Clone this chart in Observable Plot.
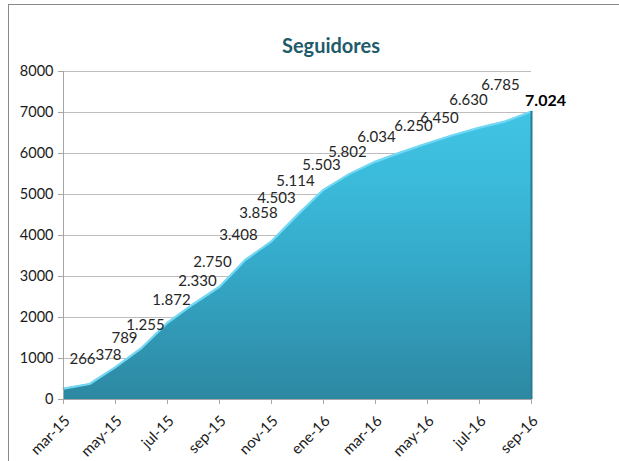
<!DOCTYPE html>
<html><head><meta charset="utf-8">
<script src="https://cdn.jsdelivr.net/npm/d3@7"></script>
<script src="https://cdn.jsdelivr.net/npm/@observablehq/plot@0.6"></script>
<style>
html,body{margin:0;padding:0;background:#fff;overflow:hidden;}
#wrap{position:relative;width:619px;height:461px;overflow:hidden;font-family:Lato,sans-serif;}
#frame{position:absolute;left:8px;top:4px;width:700px;height:600px;border:1.5px solid #8a8a8a;box-sizing:border-box;}
#title{position:absolute;left:0;top:35px;width:662px;text-align:center;font:bold 20px/20px Lato,sans-serif;color:#1f5b6b;}
#chart{position:absolute;left:0;top:0;}
</style>
</head><body>
<div id="wrap"><div id="frame"></div><div id="chart"></div><div id="title">Seguidores</div></div>
<script>
const months = ["mar-15","abr-15","may-15","jun-15","jul-15","ago-15","sep-15","oct-15","nov-15","dic-15","ene-16","feb-16","mar-16","abr-16","may-16","jun-16","jul-16","ago-16","sep-16"];
const followers = [266,378,789,1255,1872,2330,2750,3408,3858,4503,5114,5503,5802,6034,6250,6450,6630,6785,7024];
const yTicks = [0,1000,2000,3000,4000,5000,6000,7000,8000];
const xTicks = ["mar-15","may-15","jul-15","sep-15","nov-15","ene-16","mar-16","may-16","jul-16","sep-16"];

const data = months.map((m, i) => ({month: m, value: followers[i], i}));
const fmt = d3.formatLocale({decimal: ",", thousands: ".", grouping: [3], currency: ["", ""]}).format(",d");

// label offset groups (by index) to mimic the reference label placement
const labelGroups = [
  {idx: [0, 1], dx: 19, dy: -29},
  {idx: [2], dx: 9, dy: -29},
  {idx: [3, 4, 5], dx: 4, dy: -23},
  {idx: [6, 7], dx: -7, dy: -25},
  {idx: [8], dx: -13, dy: -28},
  {idx: [9], dx: -21, dy: -17},
  {idx: [10, 11, 12], dx: -28, dy: -9},
  {idx: [13], dx: -25, dy: -15},
  {idx: [14, 15], dx: -14, dy: -17},
  {idx: [16], dx: -11, dy: -27},
  {idx: [17], dx: -5, dy: -36}
];
const last = data.length - 1;

const labelMarks = labelGroups.map(g => Plot.text(data.filter(d => g.idx.includes(d.i)), {
  x: "month", y: "value", text: d => fmt(d.value), dx: g.dx, dy: g.dy,
  fontSize: 15, fill: "#262626"
}));

const plot = Plot.plot({
  width: 619, height: 461,
  marginLeft: 63, marginRight: 88, marginTop: 71, marginBottom: 62,
  style: {background: "transparent", fontFamily: "Lato, sans-serif", fontSize: "14px", color: "#000", overflow: "visible"},
  x: {type: "point", domain: months, padding: 0, axis: null, label: null},
  y: {domain: [0, 8000], axis: null, label: null},
  marks: [
    Plot.gridY(yTicks, {stroke: "#bdbdbd", strokeOpacity: 1, strokeWidth: 1}),
    Plot.areaY(data, {x: "month", y: "value", fill: "url(#segGrad)"}),
    Plot.lineY(data, {x: "month", y: "value", stroke: "#72d8f3", strokeWidth: 2.2}),
    Plot.ruleX([data[last]], {x: "month", y1: 0, y2: "value", stroke: "#2a7c93", strokeWidth: 2}),
    Plot.ruleY([0], {stroke: "#a6a6a6"}),
    Plot.ruleX([months[0]], {stroke: "#a6a6a6"}),
    Plot.axisY(yTicks, {tickSize: 5, tickPadding: 5, stroke: "#a6a6a6", fill: "#1a1a1a", fontSize: 14.5, tickFormat: d => String(d), label: null}),
    Plot.axisX(xTicks, {tickSize: 5, stroke: "#a6a6a6", tickFormat: () => "", label: null}),
    Plot.axisX(xTicks, {tickSize: 0, tickPadding: 5, tickRotate: -45, dx: 4, dy: 14, fill: "#1a1a1a", fontSize: 15, label: null}),
    ...labelMarks,
    Plot.text([data[last]], {x: "month", y: "value", text: d => fmt(d.value), dx: 14, dy: -11, fontSize: 16, fontWeight: "bold", fill: "#000"})
  ]
});

d3.select(plot).insert("defs", ":first-child").html(
  '<linearGradient id="segGrad" x1="0" y1="0" x2="0" y2="1">' +
  '<stop offset="0" stop-color="#41c4e5"/>' +
  '<stop offset="0.25" stop-color="#3bbada"/>' +
  '<stop offset="0.52" stop-color="#35aaca"/>' +
  '<stop offset="1" stop-color="#2d88a2"/>' +
  '</linearGradient>'
);
document.getElementById("chart").appendChild(plot);
</script>
</body></html>
